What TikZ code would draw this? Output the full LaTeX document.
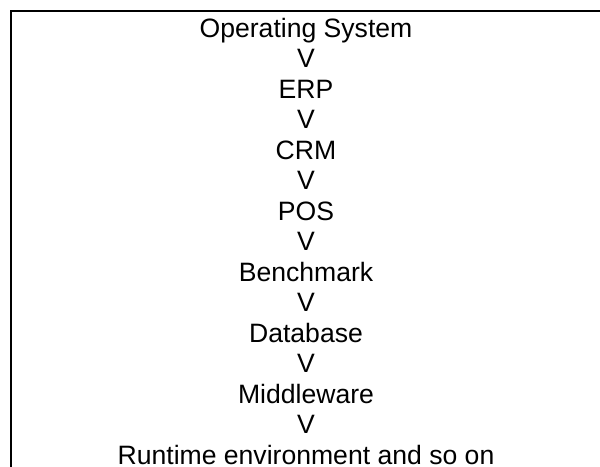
\documentclass[tikz,border=0pt]{standalone}
\usepackage{fontspec}
\setmainfont{Liberation Sans}
\tikzset{
frame/.style = {line width = 1.42pt},
layer/.style = {font = \fontsize{18.9}{21.7}\selectfont, anchor = base, inner sep = 0pt}
}

\begin{document}
\begin{tikzpicture}[x=0.025cm,y=0.025cm]
%
\def\layerlist{Operating System,V,ERP,V,CRM,V,POS,V,Benchmark,V,Database,V,Middleware,V,Runtime environment and so on}
%
\def\xmid{306}
\def\ytop{37}
\def\dy{30.5}
%
\useasboundingbox (0,0) rectangle (600,-467);
%
\draw[frame] (11,-467) -- (11,-11) -- (600,-11);
%
\foreach \t [count=\i] in \layerlist {
\node[layer] (l\i) at (\xmid,{-\ytop-(\i-1)*\dy}) {\t};
}
%
\end{tikzpicture}
\end{document}
